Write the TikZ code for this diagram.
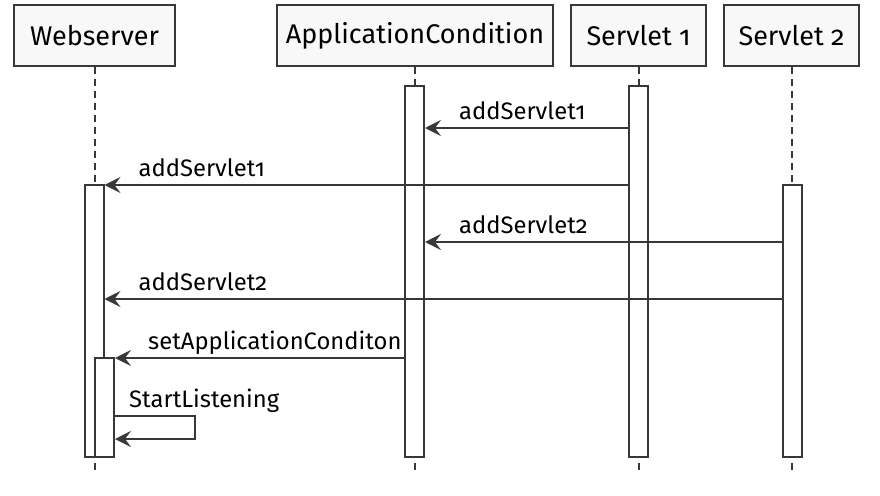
\documentclass[tikz,border=0pt]{standalone}
\usepackage{fontspec}
\setmainfont{Fira Sans}[Numbers=OldStyle]
\usetikzlibrary{arrows.meta}

\definecolor{umlline}{HTML}{383838}
\definecolor{umlfill}{HTML}{F8F8F8}

\tikzset{
  actor/.style={draw=umlline, line width=2.5pt, fill=umlfill, minimum height=61pt,
    inner sep=0pt, font=\fontsize{27}{30}\selectfont},
  lifeline/.style={draw=umlline, line width=2pt, dash pattern=on 7pt off 5pt},
  activation/.style={draw=umlline, line width=2pt, fill=white, minimum width=19pt, inner sep=0pt},
  msg/.style={draw=umlline, line width=2pt, -{Stealth[length=16pt,width=16pt,inset=6pt]}},
  msglabel/.style={anchor=base west, inner sep=0pt, font=\fontsize{23.8}{27}\selectfont}
}

\begin{document}
\begin{tikzpicture}[x=1pt, y=-1pt]
\useasboundingbox (0,0) rectangle (880,495);

% participants
\node[actor, minimum width=161pt] (web) at (94.5,35.5) {Webserver};
\node[actor, minimum width=276pt] (app) at (415,35.5) {ApplicationCondition};
\node[actor, minimum width=135pt] (s1) at (638.5,35.5) {Servlet 1};
\node[actor, minimum width=135pt] (s2) at (791.5,35.5) {Servlet 2};

% lifelines
\coordinate (bottom) at (0,473);
\foreach \p in {web,app,s1,s2}
  \draw[lifeline] (\p.south) -- (\p.south |- bottom);

% activations
\node[activation, minimum height=371pt] (barApp) at (414.5,271.5) {};
\node[activation, minimum height=371pt] (barS1) at (638.5,271.5) {};
\node[activation, minimum height=272pt] (barS2) at (792,321) {};
\node[activation, minimum height=272pt] (barWeb) at (94,321) {};
\node[activation, minimum height=99pt] (barWebIn) at (104.5,407.5) {};

% messages
\coordinate (m1) at (0,128);
\coordinate (m2) at (0,185);
\coordinate (m3) at (0,242);
\coordinate (m4) at (0,299);
\coordinate (m5) at (0,358);
\coordinate (selfA) at (195,416);
\coordinate (selfB) at (195,439);

\draw[msg] (barS1.west |- m1) -- (barApp.east |- m1);
\node[msglabel] (l1) at ([shift={(34,-9)}]barApp.east |- m1) {addServlet1};

\draw[msg] (barS1.west |- m2) -- (barWeb.east |- m2);
\node[msglabel] (l2) at ([shift={(34,-9)}]barWeb.east |- m2) {addServlet1};

\draw[msg] (barS2.west |- m3) -- (barApp.east |- m3);
\node[msglabel] (l3) at ([shift={(34,-9)}]barApp.east |- m3) {addServlet2};

\draw[msg] (barS2.west |- m4) -- (barWeb.east |- m4);
\node[msglabel] (l4) at ([shift={(34,-9)}]barWeb.east |- m4) {addServlet2};

\draw[msg] (barApp.west |- m5) -- (barWebIn.east |- m5);
\node[msglabel] (l5) at ([shift={(33,-9)}]barWebIn.east |- m5) {setApplicationConditon};

\draw[msg] (barWebIn.east |- selfA) -- (selfA) -- (selfB) -- (barWebIn.east |- selfB);
\node[msglabel] (l6) at ([shift={(14,-9)}]barWebIn.east |- selfA) {StartListening};
\end{tikzpicture}
\end{document}
